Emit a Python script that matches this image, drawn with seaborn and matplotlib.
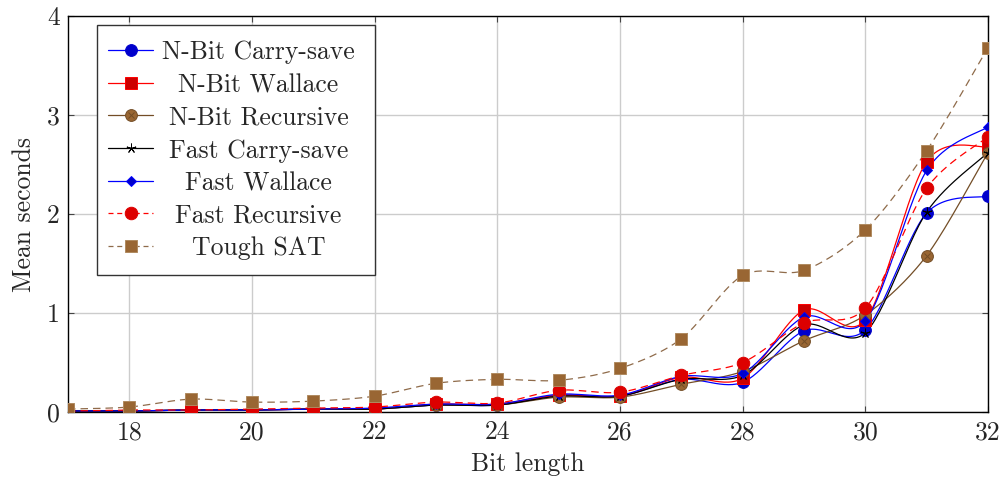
import numpy as np
import pandas as pd
import matplotlib
matplotlib.use("Agg")
import matplotlib.pyplot as plt
import seaborn as sns
from matplotlib.lines import Line2D
from matplotlib.patches import Rectangle

bits = [17, 18, 19, 20, 21, 22, 23, 24, 25, 26, 27, 28, 29, 30, 31, 32]
nbit_carry = [0.01, 0.01, 0.02, 0.02, 0.03, 0.03, 0.07, 0.07, 0.17, 0.16, 0.33, 0.30, 0.82, 0.83, 2.01, 2.18]
nbit_wallace = [0.01, 0.01, 0.02, 0.02, 0.03, 0.03, 0.08, 0.08, 0.17, 0.16, 0.35, 0.34, 1.03, 0.93, 2.53, 2.68]
nbit_recursive = [0.01, 0.01, 0.02, 0.02, 0.03, 0.03, 0.07, 0.07, 0.15, 0.15, 0.28, 0.41, 0.72, 0.98, 1.58, 2.62]
fast_carry = [0.01, 0.01, 0.02, 0.02, 0.03, 0.03, 0.07, 0.07, 0.16, 0.16, 0.33, 0.37, 0.88, 0.80, 2.02, 2.62]
fast_wallace = [0.01, 0.01, 0.02, 0.02, 0.03, 0.04, 0.08, 0.08, 0.18, 0.17, 0.36, 0.39, 0.96, 0.92, 2.44, 2.88]
fast_recursive = [0.01, 0.02, 0.02, 0.03, 0.04, 0.05, 0.10, 0.09, 0.22, 0.20, 0.37, 0.50, 0.90, 1.05, 2.26, 2.78]
tough_sat = [0.03, 0.05, 0.13, 0.10, 0.11, 0.16, 0.29, 0.33, 0.32, 0.44, 0.74, 1.38, 1.43, 1.84, 2.64, 3.68]

labels = ["N-Bit Carry-save", "N-Bit Wallace", "N-Bit Recursive", "Fast Carry-save",
          "Fast Wallace", "Fast Recursive", "Tough SAT"]
series = [nbit_carry, nbit_wallace, nbit_recursive, fast_carry, fast_wallace, fast_recursive, tough_sat]
x_ticks = [18, 20, 22, 24, 26, 28, 30, 32]
y_ticks = [0, 1, 2, 3, 4]

FS = 18.5
BROWN_L = "#8f6b4a"
styles = [
    dict(color="#0000ff", mfc="#0000cc", mec="#0000cc", marker="o", ms=8.5, dash=None),
    dict(color="#ff0000", mfc="#cc0000", mec="#ff0000", marker="s", ms=8, dash=None),
    dict(color="#734d26", mfc="#996633", mec="#734d26", marker="otimes", ms=8.5, dash=None),
    dict(color="#000000", mfc="#000000", mec="#000000", marker=(5, 2, 0), ms=7, dash=None),
    dict(color="#0000ff", mfc="#0000cc", mec="#0000ff", marker="D", ms=5.5, dash=None),
    dict(color="#ff0000", mfc="#dd0000", mec="#dd0000", marker="o", ms=9, dash=(6, 4)),
    dict(color=BROWN_L, mfc="#996633", mec="#b08a60", marker="s", ms=9, dash=(6, 4)),
]


def smooth(xs, ys, tension=0.55, n=30):
    xs = np.asarray(xs, float)
    ys = np.asarray(ys, float)
    k = 0.2775 * tension
    px, py = [], []
    m = len(xs)
    for i in range(m - 1):
        p0 = np.array([xs[i], ys[i]])
        p3 = np.array([xs[i + 1], ys[i + 1]])
        prev = np.array([xs[i - 1], ys[i - 1]]) if i > 0 else p0
        nxt = np.array([xs[i + 2], ys[i + 2]]) if i + 2 < m else p3
        c1 = p0 + k * (p3 - prev)
        c2 = p3 - k * (nxt - p0)
        t = np.linspace(0, 1, n)[:, None]
        pts = ((1 - t) ** 3) * p0 + 3 * ((1 - t) ** 2) * t * c1 + 3 * (1 - t) * t ** 2 * c2 + t ** 3 * p3
        if i > 0:
            pts = pts[1:]
        px.extend(pts[:, 0])
        py.extend(pts[:, 1])
    return np.array(px), np.array(py)


sns.set_theme(style="white")
plt.rcParams["font.family"] = ["cmr10", "DejaVu Serif"]
plt.rcParams["axes.formatter.use_mathtext"] = True
plt.rcParams["mathtext.fontset"] = "cm"

fig = plt.figure(figsize=(10.06, 4.87), dpi=100)
ax = fig.add_axes([68 / 1006, 1 - 412 / 487, 920 / 1006, 396 / 487])

for ys, st, lab in zip(series, styles, labels):
    sx, sy = smooth(bits, ys)
    df = pd.DataFrame({"x": sx, "y": sy})
    sns.lineplot(data=df, x="x", y="y", sort=False, ax=ax, color=st["color"], lw=0.9, estimator=None)
    ln = ax.lines[-1]
    if st["dash"]:
        ln.set_dashes(st["dash"])

for ys, st in zip(series, styles):
    if st["marker"] == "otimes":
        ax.plot(bits, ys, ls="none", marker="o", ms=st["ms"], mfc=st["mfc"], mec=st["mec"], mew=0.7, zorder=3)
        ax.plot(bits, ys, ls="none", marker="x", ms=st["ms"] * 0.55, mec=st["mec"], mew=0.7, zorder=3)
    else:
        ax.plot(bits, ys, ls="none", marker=st["marker"], ms=st["ms"], mfc=st["mfc"], mec=st["mec"], mew=0.7, zorder=3)

ax.set_xlim(17, 32)
ax.set_ylim(0, 4)
ax.set_xticks(x_ticks)
ax.set_yticks(y_ticks)
ax.set_xticklabels([str(v) for v in x_ticks])
ax.set_yticklabels([str(v) for v in y_ticks])
ax.grid(True, color="#cccccc", lw=1.0)
ax.set_axisbelow(True)
ax.tick_params(direction="in", length=4, width=0.8, color="#444444", top=True, right=True,
               labelsize=FS, pad=6, bottom=True, left=True)
for s in ax.spines.values():
    s.set_color("black")
    s.set_linewidth(1.0)
ax.set_xlabel("Bit length", fontsize=FS, labelpad=6)
ax.set_ylabel("Mean seconds", fontsize=FS, labelpad=8)

# legend (drawn manually to center the labels as in the reference)
def px2ax(xp, yp):
    return (xp - 68) / 920, (412 - yp) / 396

x0, y0 = px2ax(97, 275)
x1, y1 = px2ax(375, 25)
ax.add_patch(Rectangle((x0, y0), x1 - x0, y1 - y0, transform=ax.transAxes, facecolor="white",
                       edgecolor="#333333", lw=1.0, zorder=5))
rows = [50, 82.7, 115, 148.3, 180.7, 213.3, 245.7]
for yp, st, lab in zip(rows, styles, labels):
    ax_l, ay = px2ax(108, yp)
    ax_r, _ = px2ax(153, yp)
    ax_m, _ = px2ax(130.5, yp)
    ln = Line2D([ax_l, ax_r], [ay, ay], transform=ax.transAxes, color=st["color"], lw=0.9, zorder=6)
    if st["dash"]:
        ln.set_dashes((4, 3))
    ax.add_line(ln)
    if st["marker"] == "otimes":
        ax.add_line(Line2D([ax_m], [ay], transform=ax.transAxes, ls="none", marker="o", ms=st["ms"],
                           mfc=st["mfc"], mec=st["mec"], mew=0.7, zorder=7))
        ax.add_line(Line2D([ax_m], [ay], transform=ax.transAxes, ls="none", marker="x", ms=st["ms"] * 0.55,
                           mec=st["mec"], mew=0.7, zorder=7))
    else:
        ax.add_line(Line2D([ax_m], [ay], transform=ax.transAxes, ls="none", marker=st["marker"], ms=st["ms"],
                           mfc=st["mfc"], mec=st["mec"], mew=0.7, zorder=7))
    tx, _ = px2ax(258.5, yp)
    ax.text(tx, ay, lab, transform=ax.transAxes, ha="center", va="center_baseline", fontsize=FS, zorder=7)

fig.savefig("out.png", dpi=100)
